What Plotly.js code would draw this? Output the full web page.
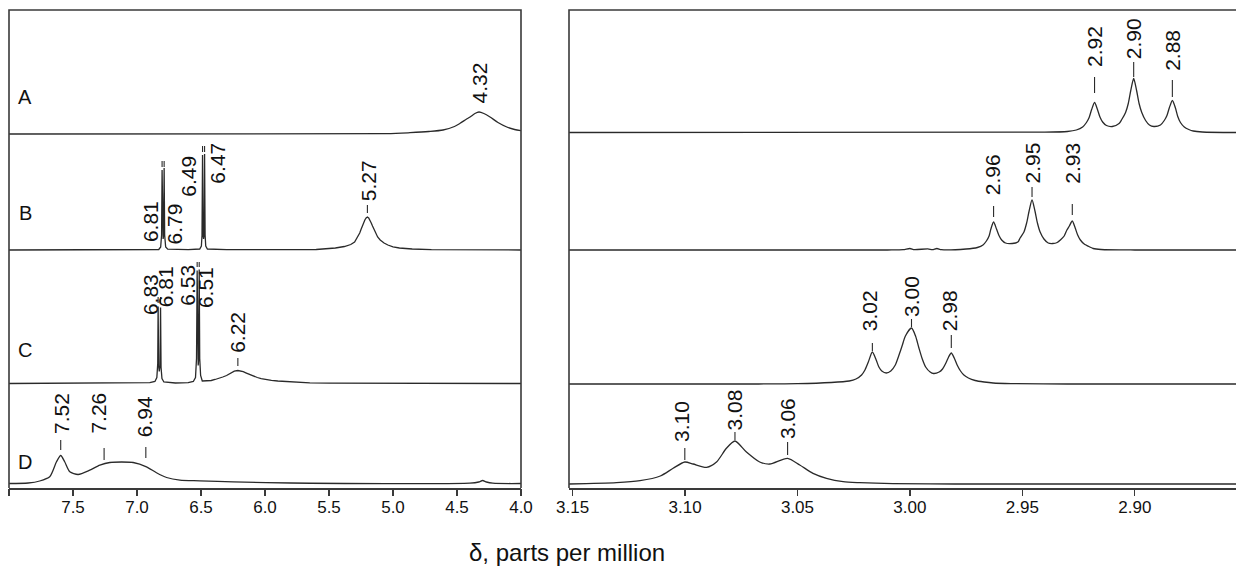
<!DOCTYPE html>
<html>
<head>
<meta charset="utf-8">
<script src="https://cdn.plot.ly/plotly-3.0.1.min.js"></script>
<style>html,body{margin:0;padding:0;background:#fff;}#chart{width:1236px;height:577px;}</style>
</head>
<body>
<div id="chart"></div>
<script>
// ---------------- DATA ----------------
// Left panel, δ 8.0 → 4.0 ppm ; intensities in px above each trace baseline
const ppmA_L = [8.0, 5.05, 4.867, 4.72, 4.609, 4.52, 4.476, 4.43, 4.398, 4.36, 4.328, 4.29, 4.242, 4.18, 4.111, 4.05, 4.0];
const intA_L = [0, 0.3, 1.3, 2.5, 4, 7.5, 10.7, 14.5, 17, 20.5, 22, 20.5, 17, 11.5, 7, 4.5, 3.3];

const ppmB_L = [8.0, 6.9, 6.83, 6.815, 6.808, 6.804, 6.800, 6.796, 6.792, 6.788, 6.784, 6.776, 6.76, 6.6, 6.51, 6.497, 6.492, 6.488, 6.484, 6.480, 6.476, 6.472, 6.468, 6.463, 6.45, 6.3, 5.6, 5.52, 5.45, 5.38, 5.33, 5.30, 5.28, 5.26, 5.25, 5.24, 5.23, 5.22, 5.21, 5.20, 5.19, 5.18, 5.17, 5.16, 5.15, 5.14, 5.12, 5.10, 5.07, 5.04, 5.0, 4.95, 4.85, 4.7, 4.0];
const intB_L = [0, 0.2, 0.5, 3, 15, 80, 15, 11, 15, 82, 15, 3, 0.8, 0.3, 1, 4, 15, 95, 15, 11, 15, 96, 15, 4, 1, 0.3, 0.5, 1, 2, 3.5, 5.5, 8, 12, 17, 20.5, 24, 27.5, 30, 32, 33, 32, 30, 27, 24, 21, 17.5, 13, 10, 7, 5, 3.2, 2, 1, 0.3, 0];

const ppmC_L = [8.0, 7.0, 6.9, 6.86, 6.845, 6.838, 6.835, 6.831, 6.826, 6.820, 6.816, 6.812, 6.805, 6.79, 6.7, 6.6, 6.56, 6.543, 6.535, 6.530, 6.526, 6.522, 6.518, 6.514, 6.510, 6.503, 6.49, 6.45, 6.42, 6.39, 6.36, 6.33, 6.30, 6.28, 6.26, 6.24, 6.212, 6.19, 6.17, 6.15, 6.12, 6.09, 6.06, 6.03, 6.0, 5.95, 5.9, 5.84, 5.78, 5.65, 5.5, 4.0];
const intC_L = [0, 0.3, 0.8, 2, 6, 20, 77, 18, 12, 18, 76, 16, 5, 1.5, 0.5, 0.8, 2, 6, 25, 113, 25, 18, 25, 114, 25, 8, 2.5, 2.5, 3, 4, 5, 6.5, 8, 9.5, 11, 12.3, 13, 12.6, 11.8, 10.7, 9, 7.4, 6, 4.9, 4, 3.1, 2.5, 2, 1.5, 0.7, 0.3, 0];

const ppmD_L = [8.0, 7.85, 7.76, 7.682, 7.629, 7.596, 7.565, 7.525, 7.46, 7.369, 7.29, 7.212, 7.12, 7.03, 6.926, 6.848, 6.769, 6.665, 6.509, 6.25, 5.8, 4.4, 4.33, 4.30, 4.27, 4.22, 4.0];
const intD_L = [0, 0.5, 2.5, 6.7, 21.7, 28, 21.7, 11.7, 9, 13.3, 18.3, 21, 21.5, 21, 16.7, 10.7, 6, 3.3, 2.7, 1.7, 0.5, 0.3, 1.5, 3, 1.5, 0.3, 0];

// Right panel, δ 3.15 → 2.86 ppm
const ppmA_R = [3.152, 2.94, 2.93, 2.926, 2.9232, 2.9215, 2.9203, 2.9192, 2.9179, 2.9166, 2.9155, 2.9143, 2.9126, 2.910, 2.907, 2.9058, 2.9041, 2.9029, 2.9018, 2.9005, 2.8992, 2.8981, 2.8969, 2.8952, 2.8935, 2.8915, 2.8886, 2.8869, 2.8857, 2.8846, 2.8833, 2.8820, 2.8809, 2.8797, 2.8780, 2.876, 2.874, 2.870, 2.855];
const intA_R = [0, 0.3, 1, 2.5, 5.5, 10, 15, 23, 30, 23, 15.5, 10.5, 7, 6, 9, 13, 20, 29, 42, 54, 42, 29, 20, 12, 7.5, 6, 7.5, 12, 17, 25, 32, 25, 16, 10, 5.5, 3, 1.5, 0.5, 0];

const ppmB_R = [3.152, 3.01, 3.003, 3.0, 2.998, 2.992, 2.990, 2.988, 2.986, 2.975, 2.970, 2.9675, 2.966, 2.9648, 2.964, 2.9628, 2.9615, 2.9604, 2.9592, 2.9575, 2.9545, 2.952, 2.951, 2.9493, 2.9481, 2.947, 2.9457, 2.9444, 2.9433, 2.9421, 2.9404, 2.9385, 2.9365, 2.9345, 2.9331, 2.9314, 2.9302, 2.9291, 2.9278, 2.9265, 2.9254, 2.9242, 2.9225, 2.920, 2.9185, 2.915, 2.9, 2.855];
const intB_R = [0, 0, 0.3, 1.5, 0.3, 1.2, 0.3, 1.5, 0.3, 1, 2.5, 5, 9, 14, 21, 28, 21, 14.5, 10, 7, 6.5, 8, 12, 18, 27, 39, 50, 39, 27, 18, 11, 7, 6.5, 7.5, 10, 14, 20, 24, 29, 22, 15, 10, 6, 3, 1.5, 0.5, 0, 0];

const ppmC_R = [3.152, 3.07, 3.05, 3.035, 3.027, 3.024, 3.0215, 3.020, 3.0185, 3.0167, 3.015, 3.0138, 3.0125, 3.0105, 3.0085, 3.0065, 3.005, 3.0035, 3.002, 2.9993, 2.9975, 2.996, 2.9945, 2.993, 2.991, 2.9895, 2.987, 2.9855, 2.984, 2.9828, 2.9816, 2.9803, 2.979, 2.9775, 2.976, 2.974, 2.971, 2.967, 2.963, 2.955, 2.93, 2.855];
const intC_R = [0, 0, 0.3, 1.5, 3, 5, 9, 14, 22, 32, 24, 17, 13, 11, 13, 19, 28, 38, 48, 56, 48, 36, 25, 17, 12, 10.5, 12, 15, 21, 27, 31, 26, 19, 13, 9, 6, 3.5, 2, 1, 0.4, 0, 0];

const ppmD_R = [3.152, 3.1305, 3.120, 3.111, 3.1053, 3.1001, 3.0964, 3.0904, 3.086, 3.0816, 3.0778, 3.0727, 3.0668, 3.0623, 3.0544, 3.049, 3.0431, 3.0371, 3.0297, 3.0223, 3.0076, 2.98, 2.855];
const intD_R = [0, 1.3, 3.3, 8, 15.7, 22, 20, 16.7, 22, 35.7, 43, 32, 22, 20, 25.7, 19, 10.7, 5.7, 2.3, 1.3, 0.3, 0, 0];

// Peak labels (text) and their δ positions
const rowNames = ['A', 'B', 'C', 'D'];
const lblL_text = ['4.32', '6.81', '6.79', '6.49', '6.47', '5.27', '6.83', '6.81', '6.53', '6.51', '6.22', '7.52', '7.26', '6.94'];
const lblL_ppm  = [4.328, 6.894, 6.704, 6.600, 6.374, 5.19, 6.894, 6.776, 6.607, 6.464, 6.216, 7.59, 7.304, 6.939];
const lblR_text = ['2.92', '2.90', '2.88', '2.96', '2.95', '2.93', '3.02', '3.00', '2.98', '3.10', '3.08', '3.06'];
const lblR_ppm  = [2.9179, 2.9005, 2.8833, 2.9632, 2.9457, 2.9278, 3.0179, 2.9993, 2.9823, 3.1016, 3.0778, 3.0544];
// Marker ticks above peaks (δ positions)
const mkL_ppm = [6.804, 6.788, 6.488, 6.472, 5.20, 6.835, 6.816, 6.530, 6.514, 6.212, 7.596, 7.257, 6.931];
const mkR_ppm = [2.9179, 2.9005, 2.8833, 2.9628, 2.9457, 2.9278, 3.0167, 2.9993, 2.9816, 3.1001, 3.0778, 3.0544];

// ---------------- LAYOUT / PLACEMENT (pixels from top of figure) ----------------
const TOP = 10, BOTTOM = 488;           // plot area vertical extent in px
const baseL = [134, 250, 383.5, 483.5]; // trace baselines, left panel
const baseR = [132.5, 250, 384, 484];   // trace baselines, right panel
const smoothL = [true, false, false, true];
const rowLabelY = [97, 213, 350, 462];
const lblL_bottom = [105, 243, 245, 198, 185, 202, 316, 308, 307, 309, 354, 435, 435, 438];
const lblR_bottom = [68, 60, 72, 196, 185, 185, 332, 318, 332, 443, 431, 440];
const mkL_top = [161, 161, 146, 146, 205, 297, 297, 262, 262, 358, 440, 448, 447];
const mkL_bot = [167, 167, 152, 152, 213, 303, 303, 267, 267, 366, 450, 460, 458];
const mkR_top = [77, 62, 80, 206, 187, 204, 343, 319, 335, 448, 432, 442];
const mkR_bot = [93, 77, 97, 217, 197, 215, 351, 327, 348, 460, 440, 455];

const FONT = 'Liberation Sans, Arial, Helvetica, sans-serif';
const INK = '#2a2a2a';
const yd = px => BOTTOM - px;

const spectraL = [[ppmA_L, intA_L], [ppmB_L, intB_L], [ppmC_L, intC_L], [ppmD_L, intD_L]];
const spectraR = [[ppmA_R, intA_R], [ppmB_R, intB_R], [ppmC_R, intC_R], [ppmD_R, intD_R]];

const traces = [];
spectraL.forEach((s, i) => traces.push({
  type: 'scatter', mode: 'lines', x: s[0], y: s[1].map(v => yd(baseL[i]) + v),
  xaxis: 'x', yaxis: 'y',
  line: smoothL[i] ? {color: INK, width: 1.3, shape: 'spline', smoothing: 0.7} : {color: INK, width: 1.3},
  hoverinfo: 'skip', showlegend: false
}));
spectraR.forEach((s, i) => traces.push({
  type: 'scatter', mode: 'lines', x: s[0], y: s[1].map(v => yd(baseR[i]) + v),
  xaxis: 'x2', yaxis: 'y', line: {color: INK, width: 1.3, shape: 'spline', smoothing: 0.7},
  hoverinfo: 'skip', showlegend: false
}));
// invisible traces to activate tick-mark overlay axes
traces.push({type: 'scatter', mode: 'none', x: [8.0, 4.0], y: [0, 0], xaxis: 'x3', yaxis: 'y', hoverinfo: 'skip', showlegend: false});
traces.push({type: 'scatter', mode: 'none', x: [3.15, 2.86], y: [0, 0], xaxis: 'x4', yaxis: 'y', hoverinfo: 'skip', showlegend: false});

const annotations = [];
rowNames.forEach((r, i) => annotations.push({
  xref: 'paper', yref: 'y', x: (25 - 9) / 1227, y: yd(rowLabelY[i]), text: r, showarrow: false,
  xanchor: 'center', yanchor: 'middle', font: {family: FONT, size: 20, color: '#111'}
}));
lblL_text.forEach((t, i) => annotations.push({
  xref: 'x', yref: 'y', x: lblL_ppm[i], y: yd(lblL_bottom[i]), text: t, textangle: -90, showarrow: false,
  xanchor: 'center', yanchor: 'bottom', borderpad: 0, font: {family: FONT, size: 21, color: '#111'}
}));
lblR_text.forEach((t, i) => annotations.push({
  xref: 'x2', yref: 'y', x: lblR_ppm[i], y: yd(lblR_bottom[i]), text: t, textangle: -90, showarrow: false,
  xanchor: 'center', yanchor: 'bottom', borderpad: 0, font: {family: FONT, size: 21, color: '#111'}
}));
annotations.push({
  xref: 'paper', yref: 'paper', x: (567 - 9) / 1227, y: (BOTTOM - 552) / (BOTTOM - TOP),
  text: 'δ, parts per million', showarrow: false, xanchor: 'center', yanchor: 'middle',
  font: {family: FONT, size: 24, color: '#111'}
});

const shapes = [];
mkL_ppm.forEach((p, i) => shapes.push({type: 'line', xref: 'x', yref: 'y', x0: p, x1: p,
  y0: yd(mkL_top[i]), y1: yd(mkL_bot[i]), line: {color: INK, width: 1.1}}));
mkR_ppm.forEach((p, i) => shapes.push({type: 'line', xref: 'x2', yref: 'y', x0: p, x1: p,
  y0: yd(mkR_top[i]), y1: yd(mkR_bot[i]), line: {color: INK, width: 1.1}}));
// panel frames
shapes.push({type: 'path', xref: 'x domain', yref: 'y domain', path: 'M0,0 L0,1 L1,1 L1,0',
  line: {color: '#3a3a3a', width: 1.6}});
shapes.push({type: 'path', xref: 'x2 domain', yref: 'y domain', path: 'M0,0 L0,1 L1,1',
  line: {color: '#3a3a3a', width: 1.6}});

// label axes (no tick marks, labels close to the line)
const axLabels = {
  showgrid: false, zeroline: false, showline: true, linecolor: '#3a3a3a', linewidth: 1.6,
  ticks: '', ticklabelstandoff: 3,
  tickfont: {family: FONT, size: 17, color: '#111'}, anchor: 'y', fixedrange: true
};
// tick-mark axes overlaid on the label axes
const axMarks = {
  showgrid: false, zeroline: false, showline: false, showticklabels: false,
  ticks: 'outside', ticklen: 7, tickwidth: 1.2, tickcolor: '#3a3a3a', anchor: 'y', fixedrange: true
};

const layout = {
  width: 1236, height: 577,
  margin: {l: 9, r: 0, t: TOP, b: 577 - BOTTOM, pad: 0},
  paper_bgcolor: '#fff', plot_bgcolor: '#fff',
  showlegend: false,
  xaxis: Object.assign({}, axLabels, {domain: [0, 512 / 1227], range: [8.0, 4.0],
    tick0: 4.0, dtick: 0.5, tickformat: '.1f'}),
  xaxis2: Object.assign({}, axLabels, {domain: [560 / 1227, 1], range: [3.1516, 2.855],
    tick0: 2.9, dtick: 0.05, tickformat: '.2f'}),
  xaxis3: Object.assign({}, axMarks, {overlaying: 'x', range: [8.0, 4.0], tick0: 4.0, dtick: 0.5}),
  xaxis4: Object.assign({}, axMarks, {overlaying: 'x2', range: [3.1516, 2.855], tick0: 2.9, dtick: 0.05}),
  yaxis: {domain: [0, 1], range: [0, BOTTOM - TOP], visible: false, fixedrange: true},
  annotations: annotations,
  shapes: shapes
};

Plotly.newPlot('chart', traces, layout, {displayModeBar: false, staticPlot: true});
</script>
</body>
</html>
